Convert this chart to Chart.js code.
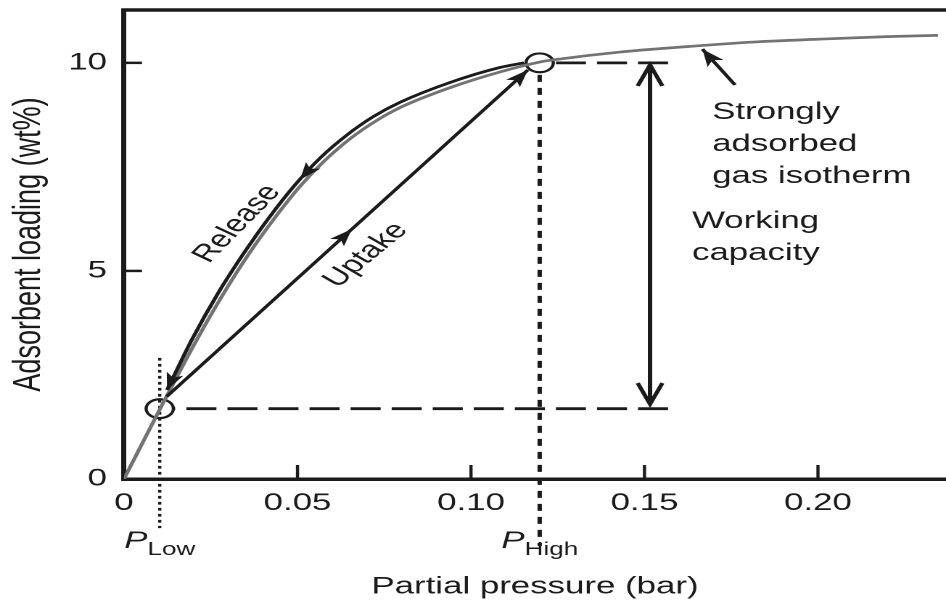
<!DOCTYPE html>
<html>
<head>
<meta charset="utf-8">
<title>Adsorbent loading vs partial pressure</title>
<script src="https://cdn.jsdelivr.net/npm/chart.js@4.4.1/dist/chart.umd.min.js"></script>
<style>
  html, body { margin: 0; padding: 0; background: #fff; overflow: hidden; width: 946px; height: 600px; }
  /* the figure is laid out narrow and widened, so glyphs and circles come out broad */
  #stage { position: absolute; left: 0; top: 0; width: 652px; height: 600px;
           transform: scaleX(1.45092); transform-origin: 0 0; }
</style>
</head>
<body>
<div id="stage"><canvas id="chart" width="652" height="600"></canvas></div>
<script>
// ---- data (partial pressure in bar, loading in wt%) ----
const isothermP = [0, 0.0104, 0.0133, 0.0210, 0.0285, 0.0360, 0.0435, 0.0507, 0.0577, 0.0652, 0.0727,
                   0.0802, 0.0945, 0.1087, 0.1198, 0.1236, 0.1429, 0.1623, 0.1813, 0.2006, 0.2199, 0.2346];
const isothermQ = [0, 1.69, 2.15, 3.35, 4.43, 5.41, 6.28, 7.03, 7.64, 8.18, 8.61,
                   8.95, 9.42, 9.79, 10.02, 10.07, 10.26, 10.39, 10.50, 10.57, 10.63, 10.66];

// release path, listed in travel order (high pressure -> low pressure)
const releaseP = [0.1153, 0.1084, 0.0940, 0.0795, 0.0719, 0.0643, 0.0566, 0.0490, 0.0417, 0.0344, 0.0270, 0.0197, 0.0124];
const releaseQ = [10.00, 9.89, 9.53, 9.05, 8.71, 8.27, 7.72, 7.04, 6.27, 5.41, 4.45, 3.37, 2.14];

// uptake path, low pressure -> high pressure
const uptakeP = [0.0123, 0.1164];
const uptakeQ = [1.98, 9.83];

// operating states
const statesP = [0.0103, 0.1198];   // P_Low, P_High
const statesQ = [1.69, 10.00];

// working capacity marker and the reach of its guide lines
const capacityP = 0.1516;
const capacityQ = [9.95, 1.80];
const guideEndP = 0.1568;

// pointer to the isotherm (tail, tip)
const pointerP = [0.1761, 0.1667];
const pointerQ = [9.47, 10.33];

// axes
const xTickValues = [0, 0.05, 0.10, 0.15, 0.20];
const yTickValues = [0, 5, 10];
const xMax = 0.2369;
const yMax = 11.27;

// ---- styling ----
const ink = '#1b1b1b';
const grey = '#737373';
const family = '"Liberation Sans", Arial, Helvetica, sans-serif';

const pts = (P, Q) => P.map((p, i) => ({ x: p, y: Q[i] }));

function locate(P, Q, at) {
  for (let i = 0; i < P.length - 1; i++) {
    const lo = Math.min(P[i], P[i + 1]), hi = Math.max(P[i], P[i + 1]);
    if (at >= lo - 1e-9 && at <= hi + 1e-9) {
      const t = (at - P[i]) / (P[i + 1] - P[i]);
      return { i, q: Q[i] + t * (Q[i + 1] - Q[i]) };
    }
  }
  return null;
}

function barb(ctx, tx, ty, ux, uy, len, half, notch) {
  const nx = -uy, ny = ux;
  const bx = tx - ux * len, by = ty - uy * len;
  ctx.beginPath();
  ctx.moveTo(tx, ty);
  ctx.lineTo(bx + nx * half, by + ny * half);
  ctx.lineTo(tx - ux * (len - notch), ty - uy * (len - notch));
  ctx.lineTo(bx - nx * half, by - ny * half);
  ctx.closePath();
  ctx.fill();
}

function vee(ctx, tx, ty, ux, uy, len, half) {
  const nx = -uy, ny = ux;
  const bx = tx - ux * len, by = ty - uy * len;
  ctx.beginPath();
  ctx.moveTo(bx + nx * half, by + ny * half);
  ctx.lineTo(tx, ty);
  ctx.lineTo(bx - nx * half, by - ny * half);
  ctx.stroke();
}

// arrowheads placed on the paths (pressure at the tip)
const pathArrows = [
  { P: releaseP, Q: releaseQ, at: 0.0507 },
  { P: releaseP, Q: releaseQ, at: releaseP[releaseP.length - 1] },
  { P: uptakeP, Q: uptakeQ, at: 0.0657 },
  { P: uptakeP, Q: uptakeQ, at: uptakeP[uptakeP.length - 1] }
];

// text blocks anchored in data units (left edge, first baseline)
const notes = [
  { lines: ['Strongly', 'adsorbed', 'gas isotherm'], p: 0.1695, q: 8.654, gap: 32 },
  { lines: ['Working', 'capacity'], p: 0.1637, q: 6.034, gap: 32 }
];
const slanted = [
  { text: 'Release', p: 0.0326, q: 6.13, angle: -55.5 },
  { text: 'Uptake', p: 0.0697, q: 5.38, angle: -50 }
];

const decor = {
  id: 'decor',
  afterDatasetsDraw(chart) {
    const { ctx, chartArea: a, scales: { x, y } } = chart;
    const px = (p, q) => [x.getPixelForValue(p), y.getPixelForValue(q)];
    ctx.save();
    ctx.strokeStyle = ink;
    ctx.fillStyle = ink;

    // top frame line
    ctx.lineWidth = 3.5;
    ctx.beginPath();
    ctx.moveTo(a.left - 1.75, a.top);
    ctx.lineTo(a.right, a.top);
    ctx.stroke();

    // inward tick marks
    ctx.lineWidth = 2.5;
    yTickValues.filter(v => v > 0).forEach(v => {
      const yy = y.getPixelForValue(v);
      ctx.beginPath(); ctx.moveTo(a.left, yy); ctx.lineTo(a.left + 12.4, yy); ctx.stroke();
    });
    ctx.lineWidth = 2.2;
    xTickValues.filter(v => v > 0).forEach(v => {
      const xx = x.getPixelForValue(v);
      ctx.beginPath(); ctx.moveTo(xx, a.bottom); ctx.lineTo(xx, a.bottom - 14); ctx.stroke();
    });

    // arrowheads along release / uptake
    pathArrows.forEach(s => {
      const hit = locate(s.P, s.Q, s.at);
      if (!hit) return;
      const [x0, y0] = px(s.P[hit.i], s.Q[hit.i]);
      const [x1, y1] = px(s.P[hit.i + 1], s.Q[hit.i + 1]);
      const d = Math.hypot(x1 - x0, y1 - y0);
      const [tx, ty] = px(s.at, hit.q);
      barb(ctx, tx, ty, (x1 - x0) / d, (y1 - y0) / d, 17, 6, 4);
    });

    // pointer head
    {
      const [sx, sy] = px(pointerP[0], pointerQ[0]);
      const [tx, ty] = px(pointerP[1], pointerQ[1]);
      const d = Math.hypot(tx - sx, ty - sy);
      barb(ctx, tx, ty, (tx - sx) / d, (ty - sy) / d, 17, 6.5, 4);
    }

    // working capacity heads
    ctx.lineWidth = 3;
    ctx.lineJoin = 'miter';
    {
      const [cx, top] = px(capacityP, capacityQ[0]);
      const [, bot] = px(capacityP, capacityQ[1]);
      vee(ctx, cx, top, 0, -1, 21, 8.5);
      vee(ctx, cx, bot, 0, 1, 21, 8.5);
    }

    // text notes
    ctx.font = `24px ${family}`;
    ctx.textAlign = 'left';
    ctx.textBaseline = 'alphabetic';
    notes.forEach(n => {
      const [lx, ly] = px(n.p, n.q);
      n.lines.forEach((t, i) => ctx.fillText(t, lx, ly + i * n.gap));
    });

    // path labels
    slanted.forEach(s => {
      const [lx, ly] = px(s.p, s.q);
      ctx.save();
      ctx.translate(lx, ly);
      ctx.rotate(s.angle * Math.PI / 180);
      ctx.textAlign = 'center';
      ctx.textBaseline = 'middle';
      ctx.fillText(s.text, 0, 0);
      ctx.restore();
    });

    // P_Low / P_High under the axis
    const subs = ['Low', 'High'];
    statesP.forEach((p, i) => {
      const cx = x.getPixelForValue(p);
      const base = a.bottom + 69;
      ctx.font = `italic 24px ${family}`;
      const wP = ctx.measureText('P').width;
      ctx.font = `18px ${family}`;
      const wS = ctx.measureText(subs[i]).width;
      const left = cx - (wP + wS) / 2;
      ctx.textAlign = 'left';
      ctx.font = `italic 24px ${family}`;
      ctx.fillText('P', left, base);
      ctx.font = `18px ${family}`;
      ctx.fillText(subs[i], left + wP, base + 7);
    });

    ctx.restore();
  }
};

const line = (label, data, extra) => Object.assign({
  label, data, borderColor: ink, backgroundColor: ink, borderWidth: 2.7,
  pointRadius: 0, fill: false, tension: 0
}, extra);

new Chart(document.getElementById('chart'), {
  type: 'line',
  data: {
    datasets: [
      line('Release', pts(releaseP, releaseQ), { cubicInterpolationMode: 'monotone' }),
      line('Uptake', pts(uptakeP, uptakeQ)),
      line('Strongly adsorbed gas isotherm', pts(isothermP, isothermQ),
           { borderColor: grey, cubicInterpolationMode: 'monotone' }),
      line('States', pts(statesP, statesQ),
           { showLine: false, pointRadius: 9.4, pointBorderWidth: 2.2,
             pointBackgroundColor: 'rgba(0,0,0,0)', pointBorderColor: ink }),
      // guide lines run from the capacity marker back towards each state
      line('High level', [{ x: guideEndP, y: statesQ[1] }, { x: statesP[1] + 0.0044, y: statesQ[1] }],
           { borderWidth: 2.8, borderDash: [20.7, 7.6] }),
      line('Low level', [{ x: guideEndP, y: statesQ[0] }, { x: statesP[0] + 0.0044, y: statesQ[0] }],
           { borderWidth: 2.8, borderDash: [20.7, 7.6] }),
      line('P_Low', [{ x: statesP[0], y: 2.91 }, { x: statesP[0], y: -1.18 }],
           { borderWidth: 2.2, borderDash: [2.7, 3.3], clip: false }),
      line('P_High', [{ x: statesP[1], y: 9.71 }, { x: statesP[1], y: -1.61 }],
           { borderWidth: 3, borderDash: [7, 6], clip: false }),
      line('Working capacity', [{ x: capacityP, y: capacityQ[0] }, { x: capacityP, y: capacityQ[1] }],
           { borderWidth: 3 }),
      line('Pointer', pts(pointerP, pointerQ), { borderWidth: 2.7 })
    ]
  },
  options: {
    responsive: false,
    devicePixelRatio: 2,
    animation: false,
    events: [],
    layout: { autoPadding: false, padding: { top: 10, left: 0, right: 0, bottom: 0 } },
    plugins: { legend: { display: false }, tooltip: { enabled: false } },
    scales: {
      x: {
        type: 'linear', min: 0, max: xMax,
        grid: { display: false, drawTicks: false, tickLength: 0 },
        border: { display: true, color: ink, width: 3.5 },
        ticks: {
          autoSkip: false, maxRotation: 0, padding: 10, color: ink,
          font: { family, size: 24 },
          callback: v => (v === 0 ? '0' : v.toFixed(2))
        },
        afterBuildTicks: s => { s.ticks = xTickValues.map(v => ({ value: v })); },
        afterFit: s => { s.height = 121; s.paddingLeft = 0; s.paddingRight = 0; },
        title: {
          display: true, text: 'Partial pressure (bar)', color: ink,
          font: { family, size: 24, lineHeight: 1 }, padding: { top: 0, bottom: 1 }
        }
      },
      y: {
        type: 'linear', min: 0, max: yMax,
        grid: { display: false, drawTicks: false, tickLength: 0 },
        border: { display: true, color: ink, width: 3.5 },
        ticks: {
          padding: 11.7, color: ink, font: { family, size: 24 },
          callback: v => String(v)
        },
        afterBuildTicks: s => { s.ticks = yTickValues.map(v => ({ value: v })); },
        afterFit: s => { s.width = 85.46; s.paddingTop = 0; s.paddingBottom = 0; },
        title: {
          display: true, text: 'Adsorbent loading (wt%)', color: ink,
          font: { family, size: 27, lineHeight: 1 }, padding: { top: 6.5, bottom: 0 }
        }
      }
    }
  },
  plugins: [decor]
});
</script>
</body>
</html>
